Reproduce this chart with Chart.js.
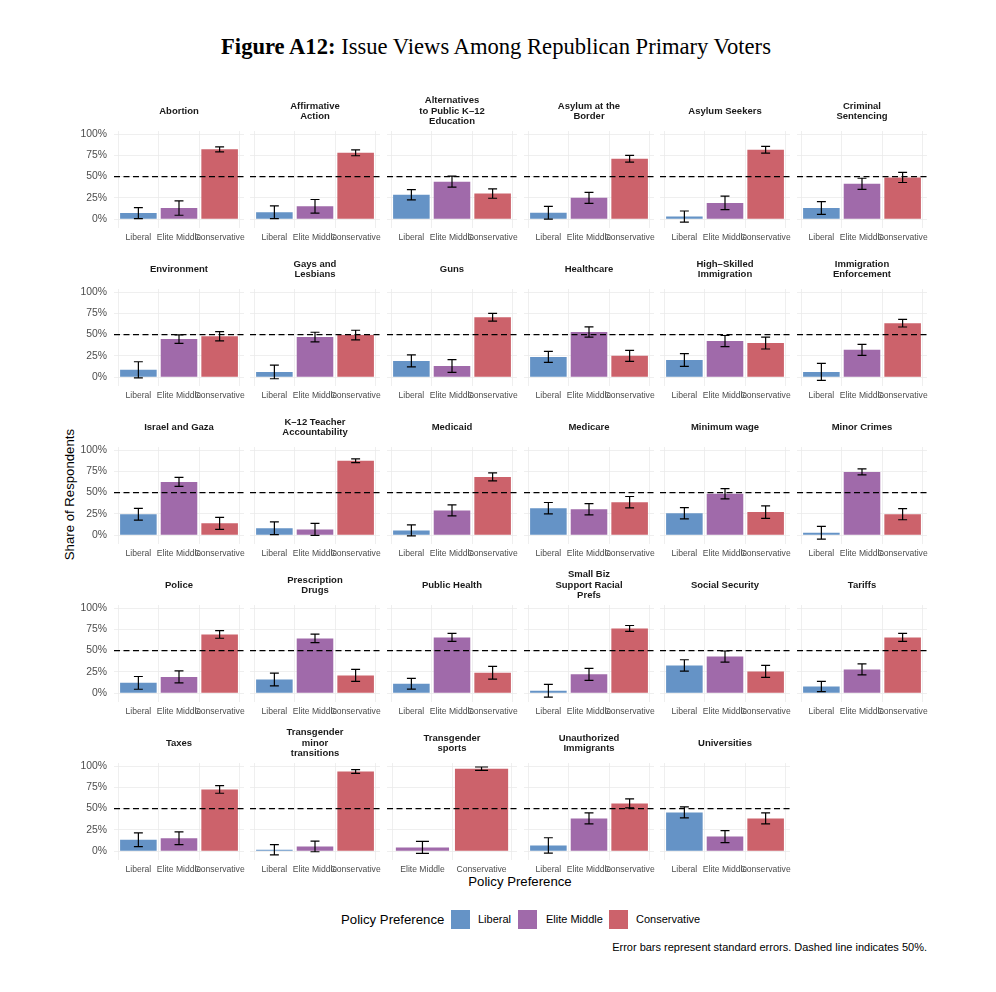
<!DOCTYPE html>
<html>
<head>
<meta charset="utf-8">
<script src="https://cdn.jsdelivr.net/npm/chart.js@4.4.1/dist/chart.umd.min.js"></script>
<style>
  body { margin: 0; background: #fff; font-family: 'Liberation Sans', Arial, sans-serif; color: #000; }
  #page { position: relative; width: 996px; height: 992px; overflow: hidden; background: #fff; }
  .panel { position: absolute; }
  .txt { position: absolute; white-space: nowrap; line-height: 1; }
  #title { left: -2px; width: 996px; top: 36px; text-align: center; font-family: 'Liberation Serif', 'Times New Roman', serif; font-size: 22.6px; }
  #ytitle { left: -30px; top: 488px; width: 200px; text-align: center; font-size: 13.2px; transform: rotate(-90deg); }
  #xtitle { left: 420px; top: 875px; width: 200px; text-align: center; font-size: 13.2px; }
  .sw { position: absolute; width: 19px; height: 19px; top: 910px; }
  .lg { top: 914px; font-size: 11px; }
  #note { right: 69px; top: 942px; font-size: 11px; }
</style>
</head>
<body>
<div id="page">
  <div id="title" class="txt"><b>Figure A12:</b> Issue Views Among Republican Primary Voters</div>
  <div id="ytitle" class="txt">Share of Respondents</div>
  <div id="xtitle" class="txt">Policy Preference</div>
  <div class="txt" style="left:341px;top:913px;font-size:13.2px">Policy Preference</div>
  <div class="sw" style="left:451px;background:#6593C6"></div>
  <div class="txt lg" style="left:478px">Liberal</div>
  <div class="sw" style="left:518px;background:#A06AAA"></div>
  <div class="txt lg" style="left:546px">Elite Middle</div>
  <div class="sw" style="left:609px;background:#CC626B"></div>
  <div class="txt lg" style="left:636px">Conservative</div>
  <div id="note" class="txt">Error bars represent standard errors. Dashed line indicates 50%.</div>
</div>
<script>
// facet titles, as split over lines in the strips
const issues = [
  'Abortion', 'Affirmative\nAction', 'Alternatives\nto Public K\u201312\nEducation', 'Asylum at the\nBorder', 'Asylum Seekers', 'Criminal\nSentencing',
  'Environment', 'Gays and\nLesbians', 'Guns', 'Healthcare', 'High\u2013Skilled\nImmigration', 'Immigration\nEnforcement',
  'Israel and Gaza', 'K\u201312 Teacher\nAccountability', 'Medicaid', 'Medicare', 'Minimum wage', 'Minor Crimes',
  'Police', 'Prescription\nDrugs', 'Public Health', 'Small Biz\nSupport Racial\nPrefs', 'Social Security', 'Tariffs',
  'Taxes', 'Transgender\nminor\ntransitions', 'Transgender\nsports', 'Unauthorized\nImmigrants', 'Universities'
];
const groups = ['Liberal', 'Elite Middle', 'Conservative'];
const groupColors = ['#6593C6', '#A06AAA', '#CC626B'];

// share of respondents (%) and standard errors (%)
const liberal        = [7, 8, 28.6, 7.5, 3, 13, 8.5, 6, 19, 23.7, 20, 6, 24.5, 8, 5.5, 31.6, 25.7, 2.8, 12, 16, 11, 2.7, 32.5, 7.8, 13.3, 1.6, null, 6.7, 45.5];
const liberalSE      = [6.5, 7.5, 6, 7.5, 6.5, 7.5, 9.5, 8, 7, 6.5, 7.5, 10, 7, 7.5, 6.5, 6.7, 6.7, 7.5, 7.5, 7.5, 6.3, 7.5, 6.7, 6, 8, 6, null, 9, 6.5];
const eliteMiddle    = [13, 15, 44, 25, 19, 41.5, 44.7, 47, 13, 53, 42.4, 32, 62.5, 6.7, 29, 30.4, 48.6, 74.3, 19, 64.3, 65.5, 22, 43, 27.8, 15, 5.5, 4.3, 38.4, 17];
const eliteMiddleSE  = [8.5, 8, 6.5, 6.5, 8, 6.5, 5, 5.7, 7.5, 6, 6.5, 6.5, 5.3, 7, 6.5, 6.7, 6, 3.5, 7, 5, 4.7, 7, 6.5, 6.5, 7.5, 6.3, 7, 6.5, 7];
const conservative   = [82, 78, 30, 71, 81.5, 49, 48, 49.4, 70.4, 25, 40, 63.4, 13.8, 87.4, 68.4, 38.7, 27, 24.5, 69, 20.8, 24, 76, 25.5, 65.5, 72.5, 93.7, 96.9, 56, 38.4];
const conservativeSE = [3, 3.5, 5.5, 4, 4, 6, 5.5, 5.7, 4.5, 6.5, 7, 4.5, 7, 2.2, 4.7, 6.7, 7.3, 6.5, 4.5, 7, 7.5, 3.5, 7, 4.7, 4.5, 2.2, 2, 5.3, 6.5];

const yTicks = [0, 25, 50, 75, 100];

// grid geometry
const COLS = 6, PLOT_W = 130, PLOT_H = 97, COL_STEP = 136.6, ROW_STEP = 157.85;
const LEFT0 = 113.8, TOP0 = 131.2;
const STRIP_H = 40, XAXIS_H = 18, Y_AXIS_W = 45, SIDE_PAD = 12, LINE_H = 10.45;

Chart.defaults.font.family = "'Liberation Sans', Arial, sans-serif";

// 50% reference line + standard error whiskers
const errorBars = {
  id: 'errorBars',
  afterDatasetsDraw(chart) {
    const { ctx, chartArea, scales: { x, y } } = chart;
    const ds = chart.data.datasets[0];
    ctx.save();
    ctx.strokeStyle = '#000';
    ctx.lineWidth = 1.2;
    ctx.setLineDash([6, 3.5]);
    const y50 = y.getPixelForValue(50);
    ctx.beginPath();
    ctx.moveTo(chartArea.left, y50);
    ctx.lineTo(chartArea.right, y50);
    ctx.stroke();
    ctx.setLineDash([]);
    ctx.lineWidth = 1.2;
    ds.data.forEach((p, j) => {
      const se = ds.se[j];
      const cx = x.getPixelForValue(p.x);
      const half = x.getPixelForValue(p.x + 0.11) - cx;
      const top = y.getPixelForValue(p.y + se);
      const bot = y.getPixelForValue(p.y - se);
      ctx.beginPath();
      ctx.moveTo(cx, top); ctx.lineTo(cx, bot);
      ctx.moveTo(cx - half, top); ctx.lineTo(cx + half, top);
      ctx.moveTo(cx - half, bot); ctx.lineTo(cx + half, bot);
      ctx.stroke();
    });
    ctx.restore();
  }
};

const page = document.getElementById('page');

issues.forEach((name, i) => {
  const row = Math.floor(i / COLS), col = i % COLS;
  const vals = [liberal[i], eliteMiddle[i], conservative[i]];
  const errs = [liberalSE[i], eliteMiddleSE[i], conservativeSE[i]];
  const idx = [0, 1, 2].filter(k => vals[k] !== null);
  const labels = idx.map(k => groups[k]);
  const n = idx.length;
  const yW = col === 0 ? Y_AXIS_W : 0;

  const box = document.createElement('div');
  box.className = 'panel';
  box.style.left = Math.round(LEFT0 + col * COL_STEP - SIDE_PAD - yW) + 'px';
  box.style.top = Math.round(TOP0 + row * ROW_STEP - STRIP_H) + 'px';
  box.style.width = (PLOT_W + 2 * SIDE_PAD + yW) + 'px';
  box.style.height = (STRIP_H + PLOT_H + XAXIS_H) + 'px';
  const canvas = document.createElement('canvas');
  box.appendChild(canvas);
  page.appendChild(box);

  const lines = name.split('\n');
  const padTop = (STRIP_H - 19.7) - lines.length * LINE_H / 2;
  const padBottom = STRIP_H - padTop - lines.length * LINE_H;

  new Chart(canvas, {
    type: 'bar',
    data: {
      datasets: [{
        data: idx.map((k, j) => ({ x: j + 1, y: vals[k] })),
        se: idx.map(k => errs[k]),
        backgroundColor: idx.map(k => groupColors[k]),
        borderWidth: 0,
        barPercentage: 0.9,
        categoryPercentage: 1
      }]
    },
    options: {
      responsive: true,
      maintainAspectRatio: false,
      animation: false,
      layout: { padding: { left: SIDE_PAD, right: SIDE_PAD, top: 0, bottom: 0 } },
      plugins: {
        legend: { display: false },
        tooltip: { enabled: false },
        title: {
          display: true,
          text: lines,
          fullSize: false,
          color: '#1a1a1a',
          font: { size: 9.5, weight: 'bold', lineHeight: 1.1 },
          padding: { top: padTop, bottom: padBottom }
        }
      },
      scales: {
        x: {
          type: 'linear',
          min: 0.4,
          max: n + 0.6,
          offset: false,
          afterBuildTicks: s => { s.ticks = labels.map((_, j) => ({ value: j + 1 })); },
          afterFit: s => { s.height = XAXIS_H; s.paddingLeft = 0; s.paddingRight = 0; },
          ticks: {
            autoSkip: false, maxRotation: 0, minRotation: 0, padding: 4,
            color: '#4d4d4d', font: { size: 8.6 },
            callback: (v, j) => labels[j]
          },
          grid: { color: '#ebebeb', lineWidth: 0.8, drawTicks: false },
          border: { display: false }
        },
        y: {
          min: -10.5,
          max: 103.6,
          afterBuildTicks: s => { s.ticks = yTicks.map(v => ({ value: v })); },
          afterFit: s => { s.width = yW; s.paddingTop = 0; s.paddingBottom = 0; },
          ticks: {
            display: col === 0, padding: 7,
            color: '#4d4d4d', font: { size: 10.4 },
            callback: v => v + '%'
          },
          grid: { color: '#ebebeb', lineWidth: 0.8, drawTicks: false },
          border: { display: false }
        }
      }
    },
    plugins: [errorBars]
  });
});
</script>
</body>
</html>
